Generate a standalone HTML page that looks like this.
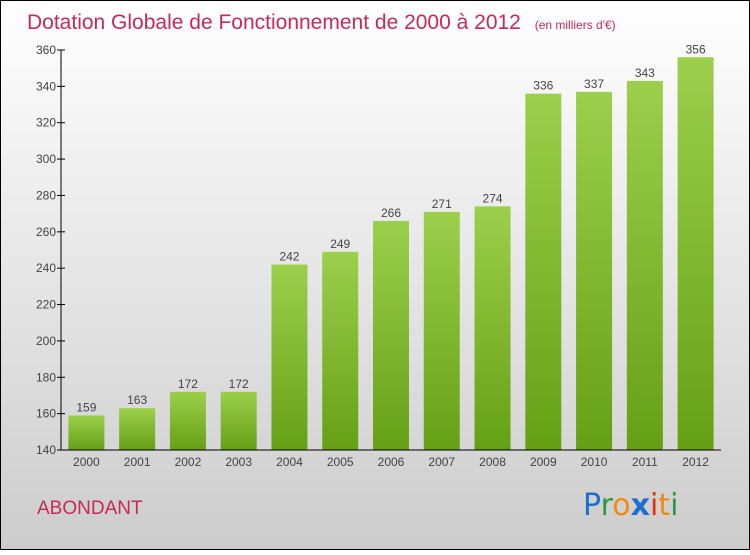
<!DOCTYPE html>
<html><head><meta charset="utf-8"><style>
html,body{margin:0;padding:0}
body{width:750px;height:550px;overflow:hidden;font-family:"Liberation Sans",sans-serif}
</style></head><body>
<svg width="750" height="550" xmlns="http://www.w3.org/2000/svg" id="svg">
<defs>
<linearGradient id="bg" x1="0" y1="0" x2="0" y2="1"><stop offset="0" stop-color="#ffffff"/><stop offset="1" stop-color="#cccccc"/></linearGradient>
<linearGradient id="bar" x1="0" y1="0" x2="0" y2="1"><stop offset="0" stop-color="#9ccf4c"/><stop offset="1" stop-color="#65a014"/></linearGradient>
</defs>
<rect x="0.5" y="0.5" width="749" height="549" fill="url(#bg)" stroke="#000"/>
<text x="27" y="29" font-size="21" fill="#c8285a">Dotation Globale de Fonctionnement de 2000 à 2012 <tspan font-size="12" dx="8">(en milliers d'€)</tspan></text>
<g id="plot"></g>
<text x="37" y="514" font-size="19" fill="#c8285a">ABONDANT</text>
<g font-size="30" font-family="'DejaVu Sans',sans-serif">
<text x="583" y="515" fill="#1a6fd0">P<tspan fill="#2a9a3a">r</tspan><tspan fill="#f08a10">o</tspan><tspan fill="#1a6fd0" font-weight="bold">x</tspan><tspan fill="#e83010">i</tspan><tspan fill="#f08a10">t</tspan><tspan fill="#2a9a3a">i</tspan></text>
</g>
</svg>
<script>
const categories=["2000","2001","2002","2003","2004","2005","2006","2007","2008","2009","2010","2011","2012"];
const values=[159,163,172,172,242,249,266,271,274,336,337,343,356];
const yTicks=[140,160,180,200,220,240,260,280,300,320,340,360];
const NS="http://www.w3.org/2000/svg";
const g=document.getElementById('plot');
const x0=61,x1=721,yMin=140,yMax=360,py0=450,py1=50;
const y=v=>py0-(v-yMin)/(yMax-yMin)*(py0-py1);
const step=(x1-x0)/categories.length;
const xc=i=>x0+step*(i+0.5);
function el(t,a){const e=document.createElementNS(NS,t);for(const k in a)e.setAttribute(k,a[k]);g.appendChild(e);return e;}
yTicks.forEach(v=>{
 const tk=el('line',{x1:x0-4,x2:x0+4,y1:y(v),y2:y(v),stroke:'#000'});
 
 
 const t=el('text',{x:x0-5,y:y(v)+4,'text-anchor':'end','font-size':12,fill:'#444'});
 t.textContent=v;
 
 
});
values.forEach((v,i)=>{
 const w=36;
 const r=el('rect',{x:xc(i)-w/2,y:y(v),width:w,height:py0-y(v),fill:'url(#bar)'});
 
 
 const t=el('text',{x:xc(i),y:y(v)-4,'text-anchor':'middle','font-size':12,fill:'#444'});
 t.textContent=v;
 
 
 const c=el('text',{x:xc(i),y:py0+16,'text-anchor':'middle','font-size':12,fill:'#444'});
 c.textContent=categories[i];
 
 
});
const ya=el('line',{x1:x0,x2:x0,y1:py1,y2:py0,stroke:'#000'});


const xa=el('line',{x1:x0,x2:x1,y1:py0,y2:py0,stroke:'#000'});


</script>
</body></html>
